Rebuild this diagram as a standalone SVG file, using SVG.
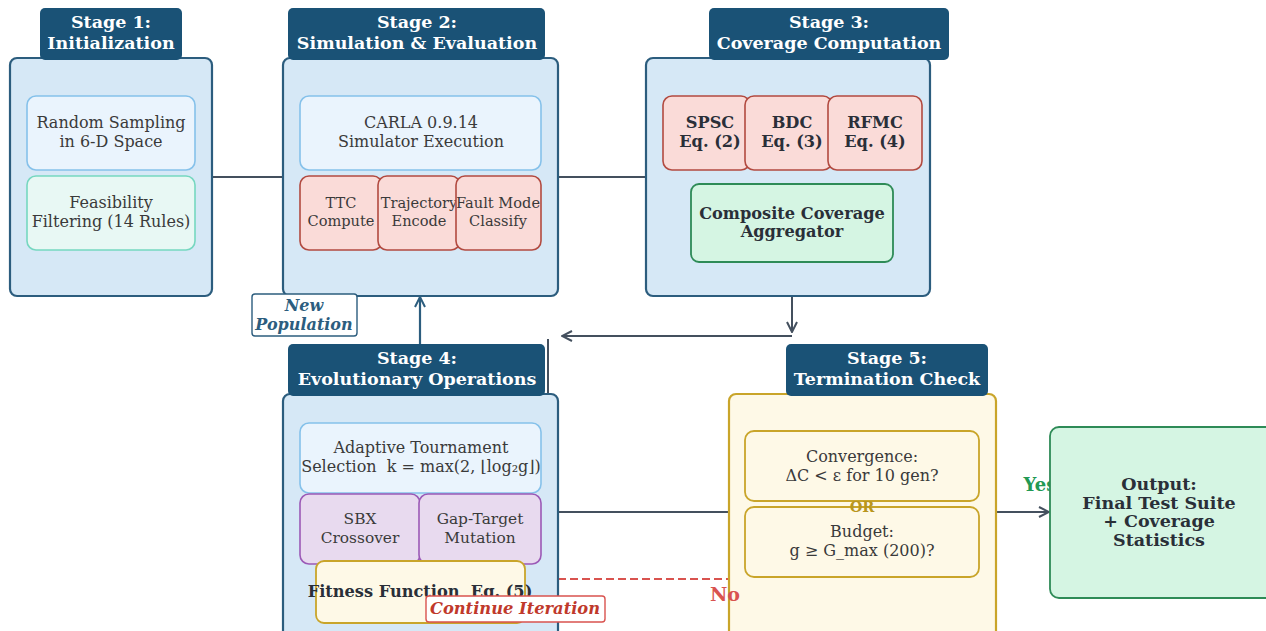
<svg xmlns="http://www.w3.org/2000/svg" width="1266" height="631" viewBox="0 0 1266 631">
<defs>
<style>
.stage{fill:#d6e8f6;stroke:#2c5d7e;stroke-width:2.2}
.hdr{fill:#1a5276;stroke:none}
.ht{font-family:"DejaVu Serif",serif;font-weight:bold;font-size:17.5px;fill:#ffffff;text-anchor:middle}
.t{font-family:"DejaVu Serif",serif;font-size:16px;fill:#3a3a3a;text-anchor:middle}
.ts{font-family:"DejaVu Serif",serif;font-size:14.6px;fill:#3a3a3a;text-anchor:middle}
.tm{font-family:"DejaVu Serif",serif;font-size:15.4px;fill:#3a3a3a;text-anchor:middle}
.tb{font-family:"DejaVu Serif",serif;font-weight:bold;font-size:16.2px;fill:#2a2f38;text-anchor:middle}
.blue{fill:#eaf4fd;stroke:#85c1ea;stroke-width:1.6}
.teal{fill:#e8f8f4;stroke:#76d7c0;stroke-width:1.6}
.red{fill:#fadbd8;stroke:#b24a40;stroke-width:1.6}
.green{fill:#d5f5e3;stroke:#2e8b57;stroke-width:1.8}
.purple{fill:#e8daef;stroke:#9b59b6;stroke-width:1.6}
.yellow{fill:#fef9e7;stroke:#c9a52a;stroke-width:1.8}
.ln{stroke:#44505e;stroke-width:2;fill:none}
.ot{font-family:"DejaVu Serif",serif;font-weight:bold;font-size:17.5px;fill:#2a2f38;text-anchor:middle}
</style>
<marker id="ah" viewBox="0 0 12 12" refX="11" refY="6" markerWidth="12" markerHeight="12" markerUnits="userSpaceOnUse" orient="auto">
<path d="M1,1 L11,6 L1,11" fill="none" stroke="#44505e" stroke-width="2"/>
</marker>
<marker id="ahb" viewBox="0 0 12 12" refX="11" refY="6" markerWidth="12" markerHeight="12" markerUnits="userSpaceOnUse" orient="auto">
<path d="M1,1 L11,6 L1,11" fill="none" stroke="#2c5d7e" stroke-width="2"/>
</marker>
</defs>
<rect width="1266" height="631" fill="#ffffff"/>

<g id="connectors">
<line class="ln" x1="212" y1="177" x2="283" y2="177"/>
<line class="ln" x1="558" y1="177" x2="646" y2="177"/>
<line class="ln" x1="792" y1="296" x2="792" y2="332" marker-end="url(#ah)"/>
<line class="ln" x1="792" y1="336" x2="562" y2="336" marker-end="url(#ah)"/>
<line class="ln" x1="548" y1="339" x2="548" y2="394"/>
<line x1="420" y1="344" x2="420" y2="297" stroke="#2c5d7e" stroke-width="2.2" marker-end="url(#ahb)"/>
<line class="ln" x1="558" y1="512" x2="729" y2="512"/>
<line class="ln" x1="996" y1="512" x2="1049" y2="512" marker-end="url(#ah)"/>
<line x1="558" y1="579" x2="729" y2="579" stroke="#d9534f" stroke-width="2" stroke-dasharray="8,4"/>
</g>

<g id="stage1">
<rect class="stage" x="10" y="58" width="202" height="238" rx="7"/>
<rect class="hdr" x="40" y="8" width="142" height="52" rx="5"/>
<text class="ht" x="111" y="28">Stage 1:</text>
<text class="ht" x="111" y="49">Initialization</text>
<rect class="blue" x="27" y="96" width="168" height="74" rx="9"/>
<text class="t" x="111" y="128">Random Sampling</text>
<text class="t" x="111" y="147">in 6-D Space</text>
<rect class="teal" x="27" y="176" width="168" height="74" rx="9"/>
<text class="t" x="111" y="208">Feasibility</text>
<text class="t" x="111" y="227">Filtering (14 Rules)</text>
</g>

<g id="stage2">
<rect class="stage" x="283" y="58" width="275" height="238" rx="7"/>
<rect class="hdr" x="288" y="8" width="257" height="52" rx="5"/>
<text class="ht" x="417" y="28">Stage 2:</text>
<text class="ht" x="417" y="49">Simulation &amp; Evaluation</text>
<rect class="blue" x="300" y="96" width="241" height="74" rx="9"/>
<text class="t" x="421" y="128">CARLA 0.9.14</text>
<text class="t" x="421" y="147">Simulator Execution</text>
<rect class="red" x="300" y="176" width="82" height="74" rx="9"/>
<text class="ts" x="341" y="208">TTC</text>
<text class="ts" x="341" y="226">Compute</text>
<rect class="red" x="378" y="176" width="82" height="74" rx="9"/>
<text class="ts" x="419" y="208">Trajectory</text>
<text class="ts" x="419" y="226">Encode</text>
<rect class="red" x="456" y="176" width="85" height="74" rx="9"/>
<text class="ts" x="498" y="208">Fault Mode</text>
<text class="ts" x="498" y="226">Classify</text>
</g>

<g id="stage3">
<rect class="stage" x="646" y="58" width="284" height="238" rx="7"/>
<rect class="hdr" x="709" y="8" width="240" height="52" rx="5"/>
<text class="ht" x="829" y="28">Stage 3:</text>
<text class="ht" x="829" y="49">Coverage Computation</text>
<rect class="red" x="663" y="96" width="87" height="74" rx="9"/>
<text class="tb" x="710" y="128">SPSC</text>
<text class="tb" x="710" y="147">Eq. (2)</text>
<rect class="red" x="745" y="96" width="87" height="74" rx="9"/>
<text class="tb" x="792" y="128">BDC</text>
<text class="tb" x="792" y="147">Eq. (3)</text>
<rect class="red" x="828" y="96" width="94" height="74" rx="9"/>
<text class="tb" x="875" y="128">RFMC</text>
<text class="tb" x="875" y="147">Eq. (4)</text>
<rect class="green" x="691" y="184" width="202" height="78" rx="8"/>
<text class="tb" x="792" y="219">Composite Coverage</text>
<text class="tb" x="792" y="237">Aggregator</text>
</g>

<g id="new-population">
<rect x="252" y="294" width="105" height="42" rx="3" fill="#ffffff" stroke="#2c5d7e" stroke-width="1.4"/>
<text x="304" y="311" font-family="DejaVu Serif,serif" font-weight="bold" font-style="italic" font-size="16" fill="#2c5d7e" text-anchor="middle">New</text>
<text x="304" y="330" font-family="DejaVu Serif,serif" font-weight="bold" font-style="italic" font-size="16" fill="#2c5d7e" text-anchor="middle">Population</text>
</g>

<g id="stage4">
<rect class="stage" x="283" y="394" width="275" height="245" rx="7"/>
<rect class="hdr" x="288" y="344" width="257" height="52" rx="5"/>
<text class="ht" x="417" y="364">Stage 4:</text>
<text class="ht" x="417" y="385">Evolutionary Operations</text>
<rect class="blue" x="300" y="423" width="241" height="70" rx="9"/>
<text class="t" x="421" y="453">Adaptive Tournament</text>
<text class="t" x="421" y="472" xml:space="preserve">Selection  k = max(2, ⌊log₂g⌋)</text>
<rect class="purple" x="300" y="494" width="120" height="70" rx="9"/>
<text class="tm" x="360" y="524">SBX</text>
<text class="tm" x="360" y="543">Crossover</text>
<rect class="purple" x="419" y="494" width="122" height="70" rx="9"/>
<text class="tm" x="480" y="524">Gap-Target</text>
<text class="tm" x="480" y="543">Mutation</text>
<rect class="yellow" x="316" y="561" width="209" height="62" rx="8"/>
<text class="tb" x="420" y="597" font-size="16.6" xml:space="preserve">Fitness Function  Eq. (5)</text>
</g>

<g id="continue-iteration">
<rect x="426" y="596" width="179" height="26" rx="3" fill="#ffffff" stroke="#d9534f" stroke-width="1.4"/>
<text x="515" y="614" font-family="DejaVu Serif,serif" font-weight="bold" font-style="italic" font-size="16.3" fill="#c0392b" text-anchor="middle">Continue Iteration</text>
</g>

<g id="stage5">
<rect x="729" y="394" width="267" height="245" rx="7" fill="#fef9e7" stroke="#c9a52a" stroke-width="2.2"/>
<rect class="hdr" x="786" y="344" width="202" height="52" rx="5"/>
<text class="ht" x="887" y="364">Stage 5:</text>
<text class="ht" x="887" y="385">Termination Check</text>
<rect class="yellow" x="745" y="431" width="234" height="70" rx="9"/>
<text class="t" x="862" y="462">Convergence:</text>
<text class="t" x="862" y="481">ΔC &lt; ε for 10 gen?</text>
<rect class="yellow" x="745" y="507" width="234" height="70" rx="9"/>
<text class="t" x="862" y="537">Budget:</text>
<text class="t" x="862" y="556">g ≥ G_max (200)?</text>
<text x="862" y="512" font-family="DejaVu Serif,serif" font-weight="bold" font-size="14.5" fill="#b8961e" text-anchor="middle">OR</text>
</g>

<g id="labels">
<text x="1040" y="491" font-family="DejaVu Serif,serif" font-weight="bold" font-size="18" fill="#229954" text-anchor="middle">Yes</text>
<text x="725" y="601" font-family="DejaVu Serif,serif" font-weight="bold" font-size="19" fill="#d9534f" text-anchor="middle">No</text>
</g>

<g id="output">
<rect class="green" x="1050" y="427" width="230" height="171" rx="9"/>
<text class="ot"><tspan x="1159" y="490">Output:</tspan><tspan x="1159" y="508.5">Final Test Suite</tspan><tspan x="1159" y="527">+ Coverage</tspan><tspan x="1159" y="545.5">Statistics</tspan></text>
</g>
</svg>
